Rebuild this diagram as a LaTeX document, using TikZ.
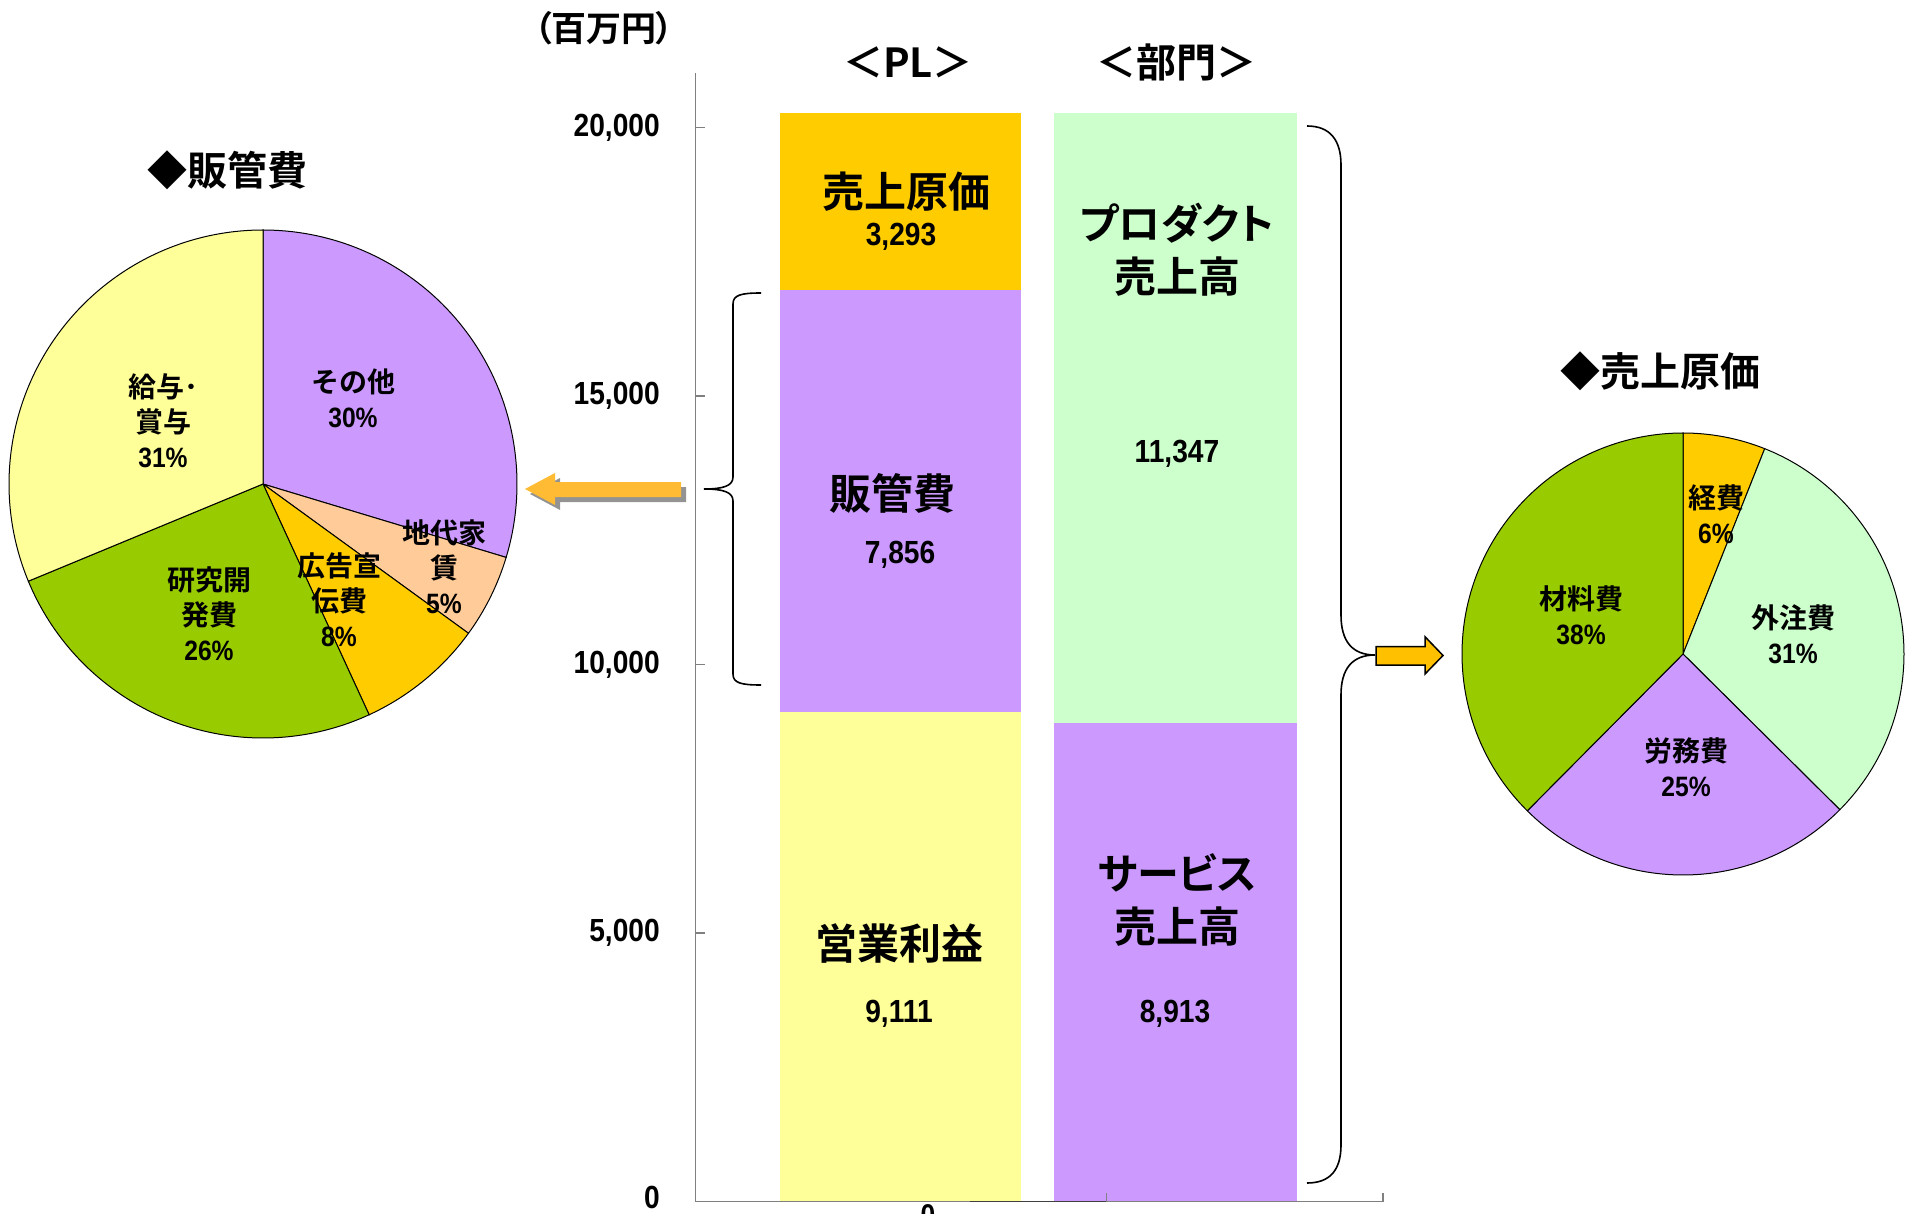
\documentclass[tikz,border=0pt]{standalone}
\usepackage{fontspec}
\newfontfamily\jpb{Noto Sans CJK JP Bold}
\newfontfamily\jpk{Noto Sans CJK JP Bold}[RawFeature=+palt]
\newfontfamily\numf{Liberation Sans Bold}[FakeStretch=0.88]
\definecolor{cOrange}{HTML}{FFCC00}
\definecolor{cPurple}{HTML}{CC99FF}
\definecolor{cYellow}{HTML}{FFFF99}
\definecolor{cLGreen}{HTML}{CCFFCC}
\definecolor{cGreen}{HTML}{99CC00}
\definecolor{cPeach}{HTML}{FFCC99}
\definecolor{cArrowL}{HTML}{FFBB33}
\definecolor{cArrowR}{HTML}{FFC000}
\definecolor{cAxis}{HTML}{808080}
\begin{document}
\begin{tikzpicture}[x=1pt,y=-1pt,
  lbl/.style={inner sep=0pt, font=\jpb\fontsize{42}{48}\selectfont},
  lblkana/.style={inner sep=0pt, font=\jpk\fontsize{42}{48}\selectfont},
  val/.style={inner sep=0pt, font=\numf\fontsize{32}{38}\selectfont},
  ticklbl/.style={inner sep=0pt, anchor=east, font=\numf\fontsize{32}{38}\selectfont},
  hdr/.style={inner sep=0pt, font=\jpb\fontsize{40}{46}\selectfont},
  unit/.style={inner sep=0pt, font=\jpk\fontsize{35}{40}\selectfont},
  plbl/.style={inner sep=0pt, align=center, font=\jpb\fontsize{28}{35}\selectfont},
  slice/.style={draw=black, line width=1pt},
  axisline/.style={draw=cAxis, line width=1.5pt},
  bracepath/.style={draw=black, line width=1.6pt},
]
\useasboundingbox (0,0) rectangle (1907,1214);

% ---------- bars ----------
\fill[cOrange] (779.5,113.5) rectangle (1021,290.4);
\fill[cPurple] (779.5,290.4) rectangle (1021,712.3);
\fill[cYellow] (779.5,712.3) rectangle (1021,1201.6);
\fill[cLGreen] (1054,113.5) rectangle (1297,722.9);
\fill[cPurple] (1054,722.9) rectangle (1297,1201.6);

% ---------- axes ----------
\draw[axisline] (695.7,73) coordinate (ytop) -- (695.7,1201.6) coordinate (yorig) -- (1382.8,1201.6) coordinate (xend);
\draw[draw=black!75, line width=1.5pt] (970,1201.6) -- (1106.7,1201.6);
\draw[axisline] (695.7,127.5) -- ++(9,0);
\draw[axisline] (695.7,396.0) -- ++(9,0);
\draw[axisline] (695.7,664.6) -- ++(9,0);
\draw[axisline] (695.7,933.1) -- ++(9,0);
\draw[axisline] (1106.7,1201.6) -- ++(0,-9);
\draw[axisline] (1382.8,1201.6) -- ++(0,-9);

\node[ticklbl] (t20) at (660,127.5) {20,000};
\node[ticklbl] (t15) at (660,396.0) {15,000};
\node[ticklbl] (t10) at (660,664.6) {10,000};
\node[ticklbl] (t5)  at (660,933.1) {5,000};
\node[ticklbl] (t0)  at (660,1197) {0};
\node[inner sep=0pt, anchor=base, font=\numf\fontsize{30}{34}\selectfont] (cat0) at (928,1225) {0};

% ---------- headers ----------
\node[unit] (units) at (604,28) {（百万円）};
\node[hdr] (plhdr) at (908,62) {＜PL＞};
\node[hdr] (bumonhdr) at (1176,62) {＜部門＞};
\node[hdr] (sgaTitle) at (227,170) {◆販管費};
\node[hdr] (cogsTitle) at (1660,371) {◆売上原価};

% ---------- bar labels ----------
\node[lbl] (cogsL) at (906,192) {売上原価};
\node[val] (cogsV) at (901,237) {3,293};
\node[lbl] (sgaL) at (892,493) {販管費};
\node[val] (sgaV) at (900,555) {7,856};
\node[lbl] (opL) at (899,944) {営業利益};
\node[val] (opV) at (899,1014) {9,111};
\node[lblkana] (prodL1) at (1177,223) {プロダクト};
\node[lbl] (prodL2) at (1177,277) {売上高};
\node[val] (prodV) at (1177,454) {11,347};
\node[lblkana] (servL1) at (1177,873) {サービス};
\node[lbl] (servL2) at (1177,927) {売上高};
\node[val] (servV) at (1175,1014) {8,913};

% ---------- left pie ----------
\begin{scope}[shift={(263,484)}, y=1pt]
  \filldraw[slice, fill=cPurple] (0,0) -- (90:254) arc[start angle=90, end angle=-16.8, radius=254] -- cycle;
  \filldraw[slice, fill=cPeach] (0,0) -- (-16.8:254) arc[start angle=-16.8, end angle=-36, radius=254] -- cycle;
  \filldraw[slice, fill=cOrange] (0,0) -- (-36:254) arc[start angle=-36, end angle=-65.3, radius=254] -- cycle;
  \filldraw[slice, fill=cGreen] (0,0) -- (-65.3:254) arc[start angle=-65.3, end angle=-157.5, radius=254] -- cycle;
  \filldraw[slice, fill=cYellow] (0,0) -- (-157.5:254) arc[start angle=-157.5, end angle=-270, radius=254] -- cycle;
\end{scope}
\node[plbl] (kyuyo) at (163,421) {給与･\\賞与\\{\numf 31\%}};
\node[plbl] (sonota) at (353,398) {その他\\{\numf 30\%}};
\node[plbl] (chidai) at (444,567) {地代家\\賃\\{\numf 5\%}};
\node[plbl] (koukoku) at (339,600) {広告宣\\伝費\\{\numf 8\%}};
\node[plbl] (kenkyu) at (209,614) {研究開\\発費\\{\numf 26\%}};

% ---------- right pie ----------
\begin{scope}[shift={(1683,654)}, y=1pt]
  \filldraw[slice, fill=cOrange] (0,0) -- (90:221) arc[start angle=90, end angle=68.3, radius=221] -- cycle;
  \filldraw[slice, fill=cLGreen] (0,0) -- (68.3:221) arc[start angle=68.3, end angle=-44.8, radius=221] -- cycle;
  \filldraw[slice, fill=cPurple] (0,0) -- (-44.8:221) arc[start angle=-44.8, end angle=-134.8, radius=221] -- cycle;
  \filldraw[slice, fill=cGreen] (0,0) -- (-134.8:221) arc[start angle=-134.8, end angle=-270, radius=221] -- cycle;
\end{scope}
\node[plbl] (keihi) at (1716,514) {経費\\{\numf 6\%}};
\node[plbl] (gaichu) at (1793,634) {外注費\\{\numf 31\%}};
\node[plbl] (zairyo) at (1581,615) {材料費\\{\numf 38\%}};
\node[plbl] (roumu) at (1686,767) {労務費\\{\numf 25\%}};

% ---------- braces ----------
\draw[bracepath] (761,293) .. controls (741,293) and (733,295) .. (733,304) -- (733,477)
  .. controls (733,486) and (723,489) .. (704,489) coordinate (lbtip)
  .. controls (723,489) and (733,492) .. (733,501) -- (733,674)
  .. controls (733,683) and (741,685) .. (761,685);
\draw[bracepath] (1307,126) .. controls (1330,126) and (1341,140) .. (1341,165) -- (1341,615)
  .. controls (1341,641) and (1352,655) .. (1375,655) coordinate (rbtip)
  .. controls (1352,655) and (1341,669) .. (1341,695) -- (1341,1145)
  .. controls (1341,1170) and (1330,1183) .. (1307,1183);

% ---------- arrows ----------
\fill[black!50, opacity=0.85] (530,494) -- (560,478) -- (560,487) -- (686,487) -- (686,502) -- (560,502) -- (560,510) -- cycle;
\fill[cArrowL] (525,489) coordinate (latip) -- (555,473) -- (555,482) -- (681,482) -- (681,497) -- (555,497) -- (555,505) -- cycle;
\filldraw[fill=cArrowR, draw=black, line width=1.5pt] (1376,646.7) -- (1425,646.7) -- (1425,636.7) -- (1443,655.5) coordinate (ratip) -- (1425,674) -- (1425,665) -- (1376,665) -- cycle;
\end{tikzpicture}
\end{document}
